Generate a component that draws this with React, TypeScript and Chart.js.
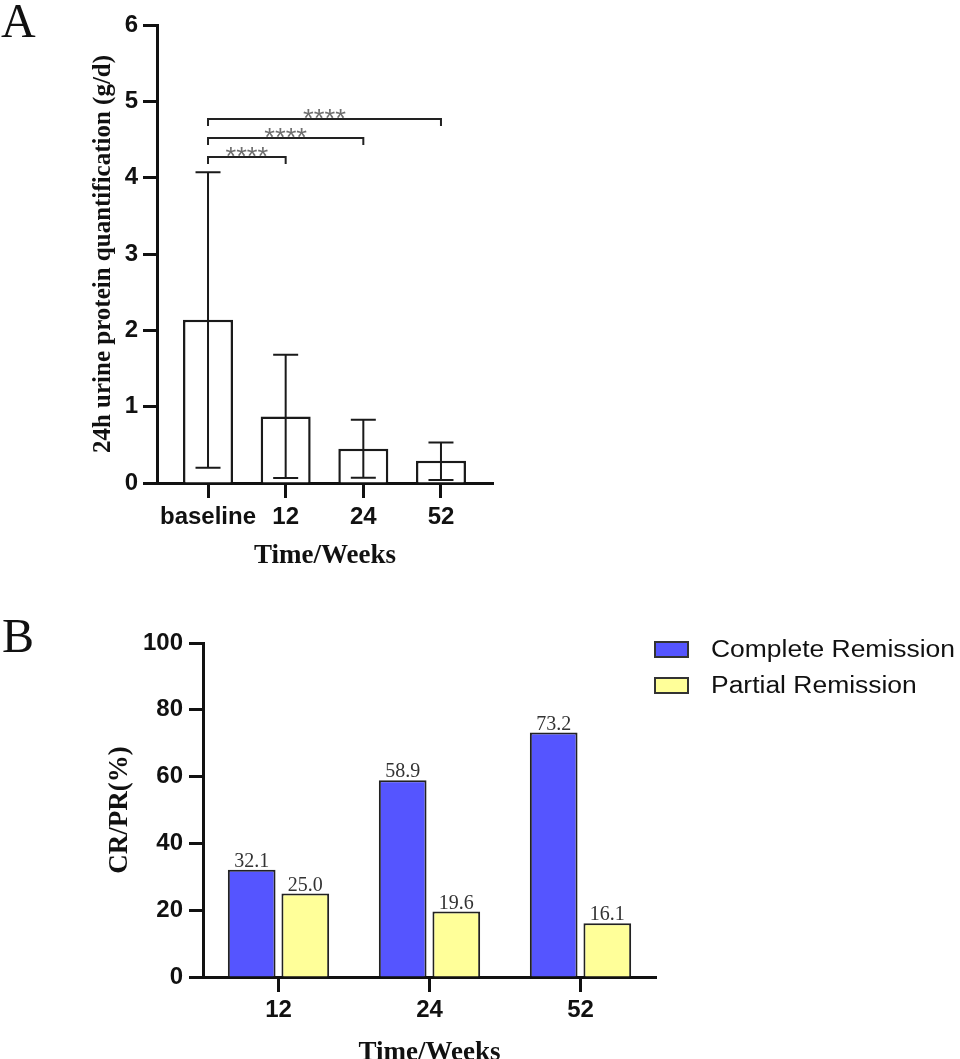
import React, { useEffect, useRef } from 'react';
import { Chart, registerables } from 'chart.js';

Chart.register(...registerables);

// ---------- Panel A data ----------
const weeksA = ['baseline', '12', '24', '52'];
const proteinMean = [2.14, 0.87, 0.45, 0.29];
const proteinUpper = [4.07, 1.68, 0.83, 0.53];
const proteinLower = [0.2, 0.065, 0.07, 0.04];
const yTicksA = [0, 1, 2, 3, 4, 5, 6];
const sigFrom = [0, 0, 0];
const sigTo = [1, 2, 3];
const sigHeight = [4.27, 4.52, 4.77];
const sigText = ['****', '****', '****'];

// ---------- Panel B data ----------
const weeksB = ['12', '24', '52'];
const completeRemission = [32.1, 58.9, 73.2];
const partialRemission = [25.0, 19.6, 16.1];
const yTicksB = [0, 20, 40, 60, 80, 100];
const legendLabels = ['Complete Remission', 'Partial Remission'];
const seriesColors = ['#5555ff', '#ffff99'];

const SANS = "'Liberation Sans', Arial, Helvetica, sans-serif";
const SERIF = "'Liberation Serif', 'Times New Roman', serif";
const INK = '#111111';

const panelLetter = (letter: string, x: number, y: number) => ({
  id: 'panelLetter' + letter,
  afterDraw(chart: any) {
    const ctx = chart.ctx;
    ctx.save();
    ctx.font = `48px ${SERIF}`;
    ctx.fillStyle = INK;
    ctx.textAlign = 'left';
    ctx.textBaseline = 'alphabetic';
    ctx.fillText(letter, x, y);
    ctx.restore();
  },
});

const errorBarsPlugin = {
  id: 'errorBars',
  afterDatasetsDraw(chart: any) {
    const ctx = chart.ctx;
    const ys = chart.scales.y;
    const meta = chart.getDatasetMeta(0);
    ctx.save();
    ctx.strokeStyle = '#1a1a1a';
    ctx.lineWidth = 2;
    meta.data.forEach((bar: any, i: number) => {
      const x = bar.x;
      const half = bar.width / 4;
      const yt = ys.getPixelForValue(proteinUpper[i]);
      const yb = ys.getPixelForValue(proteinLower[i]);
      ctx.beginPath();
      ctx.moveTo(x, yt);
      ctx.lineTo(x, yb);
      ctx.moveTo(x - half, yt);
      ctx.lineTo(x + half, yt);
      ctx.moveTo(x - half, yb);
      ctx.lineTo(x + half, yb);
      ctx.stroke();
    });
    ctx.restore();
  },
};

const bracketsPlugin = {
  id: 'brackets',
  afterDatasetsDraw(chart: any) {
    const ctx = chart.ctx;
    const xs = chart.scales.x;
    const ys = chart.scales.y;
    ctx.save();
    sigFrom.forEach((from, k) => {
      const x1 = xs.getPixelForValue(from);
      const x2 = xs.getPixelForValue(sigTo[k]);
      const y = ys.getPixelForValue(sigHeight[k]);
      ctx.strokeStyle = '#222';
      ctx.lineWidth = 2;
      ctx.beginPath();
      ctx.moveTo(x1, y + 7);
      ctx.lineTo(x1, y);
      ctx.lineTo(x2, y);
      ctx.lineTo(x2, y + 7);
      ctx.stroke();
      ctx.save();
      ctx.translate((x1 + x2) / 2, y + 8);
      ctx.scale(1.1, 1);
      ctx.fillStyle = '#6e6e6e';
      ctx.font = `25px ${SANS}`;
      ctx.textAlign = 'center';
      ctx.textBaseline = 'alphabetic';
      ctx.fillText(sigText[k], 0, 0);
      ctx.restore();
    });
    ctx.restore();
  },
};

const valueLabelsPlugin = {
  id: 'valueLabels',
  afterDatasetsDraw(chart: any) {
    const ctx = chart.ctx;
    ctx.save();
    ctx.font = `20px ${SERIF}`;
    ctx.fillStyle = '#333';
    ctx.textAlign = 'center';
    ctx.textBaseline = 'alphabetic';
    chart.data.datasets.forEach((ds: any, di: number) => {
      const meta = chart.getDatasetMeta(di);
      meta.data.forEach((bar: any, i: number) => {
        ctx.fillText(Number(ds.data[i]).toFixed(1), bar.x, bar.y - 3);
      });
    });
    ctx.restore();
  },
};

const legendPlugin = {
  id: 'customLegend',
  afterDraw(chart: any) {
    const ctx = chart.ctx;
    ctx.save();
    legendLabels.forEach((label, i) => {
      const cy = 49.5 + i * 36;
      ctx.fillStyle = seriesColors[i];
      ctx.fillRect(654, cy - 8.5, 35, 17);
      ctx.strokeStyle = '#333';
      ctx.lineWidth = 2;
      ctx.strokeRect(655, cy - 7.5, 33, 15);
      ctx.save();
      ctx.translate(711, cy);
      ctx.scale(1.15, 1);
      ctx.font = `23px ${SANS}`;
      ctx.fillStyle = INK;
      ctx.textAlign = 'left';
      ctx.textBaseline = 'middle';
      ctx.fillText(label, 0, 1);
      ctx.restore();
    });
    ctx.restore();
  },
};

const tickFont = { family: SANS, size: 24, weight: 'bold' as const };
const titleFont = { family: SERIF, size: 27, weight: 'bold' as const };

export default function App() {
  const refA = useRef<HTMLCanvasElement | null>(null);
  const refB = useRef<HTMLCanvasElement | null>(null);

  useEffect(() => {
    const chartA = new Chart(refA.current as HTMLCanvasElement, {
      type: 'bar',
      data: {
        datasets: [
          {
            data: proteinMean.map((v, i) => ({ x: i, y: v })),
            backgroundColor: '#ffffff',
            borderColor: '#1a1a1a',
            borderWidth: 2.5,
            categoryPercentage: 0.644,
            barPercentage: 1,
          } as any,
        ],
      },
      options: {
        responsive: false,
        maintainAspectRatio: false,
        animation: false,
        layout: { padding: { top: 25, right: 467, left: 0, bottom: 0 } },
        plugins: { legend: { display: false }, tooltip: { enabled: false } },
        scales: {
          x: {
            type: 'linear',
            min: -0.657,
            max: 3.67,
            offset: false,
            afterBuildTicks: (ax: any) => {
              ax.ticks = weeksA.map((_, i) => ({ value: i }));
            },
            afterFit: (ax: any) => {
              ax.height = 117;
            },
            ticks: {
              callback: (v: any) => weeksA[v as number],
              font: tickFont,
              color: INK,
              padding: 5,
              maxRotation: 0,
              autoSkip: false,
            },
            grid: {
              display: true,
              drawOnChartArea: false,
              drawTicks: true,
              tickLength: 15,
              tickWidth: 3,
              tickColor: INK,
              offset: false,
            },
            border: { display: true, width: 3, color: INK },
            title: {
              display: true,
              text: 'Time/Weeks',
              font: titleFont,
              color: INK,
              padding: { top: 0, bottom: 28 },
            },
          } as any,
          y: {
            min: 0,
            max: 6,
            afterBuildTicks: (ax: any) => {
              ax.ticks = yTicksA.map((v) => ({ value: v }));
            },
            afterFit: (ax: any) => {
              ax.width = 157;
            },
            ticks: { font: tickFont, color: INK, padding: 5 },
            grid: {
              display: true,
              drawOnChartArea: false,
              drawTicks: true,
              tickLength: 14,
              tickWidth: 3,
              tickColor: INK,
            },
            border: { display: true, width: 3, color: INK },
            title: {
              display: true,
              text: '24h urine protein quantification (g/d)',
              font: { family: SERIF, size: 25, weight: 'bold' },
              color: INK,
              padding: { top: 89, bottom: 0 },
            },
          } as any,
        },
      },
      plugins: [errorBarsPlugin, bracketsPlugin, panelLetter('A', 1, 37)],
    });

    const chartB = new Chart(refB.current as HTMLCanvasElement, {
      type: 'bar',
      data: {
        labels: weeksB,
        datasets: [
          {
            label: legendLabels[0],
            data: completeRemission,
            backgroundColor: seriesColors[0],
            borderColor: '#222',
            borderWidth: 2,
            categoryPercentage: 0.71,
            barPercentage: 0.89,
          },
          {
            label: legendLabels[1],
            data: partialRemission,
            backgroundColor: seriesColors[1],
            borderColor: '#222',
            borderWidth: 2,
            categoryPercentage: 0.71,
            barPercentage: 0.89,
          },
        ],
      },
      options: {
        responsive: false,
        maintainAspectRatio: false,
        animation: false,
        layout: { padding: { top: 43, right: 304, left: 0, bottom: 0 } },
        plugins: { legend: { display: false }, tooltip: { enabled: false } },
        scales: {
          x: {
            type: 'category',
            offset: true,
            afterFit: (ax: any) => {
              ax.height = 103;
            },
            ticks: { font: tickFont, color: INK, padding: 4, maxRotation: 0, autoSkip: false },
            grid: {
              display: true,
              drawOnChartArea: false,
              drawTicks: true,
              tickLength: 15,
              tickWidth: 3,
              tickColor: INK,
              offset: false,
            },
            border: { display: true, width: 3, color: INK },
            title: {
              display: true,
              text: 'Time/Weeks',
              font: titleFont,
              color: INK,
              padding: { top: 0, bottom: 11 },
            },
          } as any,
          y: {
            min: 0,
            max: 100,
            afterBuildTicks: (ax: any) => {
              ax.ticks = yTicksB.map((v) => ({ value: v }));
            },
            afterFit: (ax: any) => {
              ax.width = 203;
            },
            ticks: { font: tickFont, color: INK, padding: 6 },
            grid: {
              display: true,
              drawOnChartArea: false,
              drawTicks: true,
              tickLength: 14,
              tickWidth: 3,
              tickColor: INK,
            },
            border: { display: true, width: 3, color: INK },
            title: {
              display: true,
              text: 'CR/PR(%)',
              font: titleFont,
              color: INK,
              padding: { top: 104, bottom: 0 },
            },
          } as any,
        },
      },
      plugins: [valueLabelsPlugin, legendPlugin, panelLetter('B', 2, 52)],
    });

    return () => {
      chartA.destroy();
      chartB.destroy();
    };
  }, []);

  return (
    <div
      style={{
        position: 'absolute',
        left: 0,
        top: 0,
        width: 960,
        height: 1059,
        overflow: 'hidden',
        background: '#ffffff',
      }}
    >
      <canvas
        ref={refA}
        width={960}
        height={600}
        style={{ position: 'absolute', left: 0, top: 0, width: 960, height: 600, display: 'block' }}
      />
      <canvas
        ref={refB}
        width={960}
        height={480}
        style={{ position: 'absolute', left: 0, top: 600, width: 960, height: 480, display: 'block' }}
      />
    </div>
  );
}
